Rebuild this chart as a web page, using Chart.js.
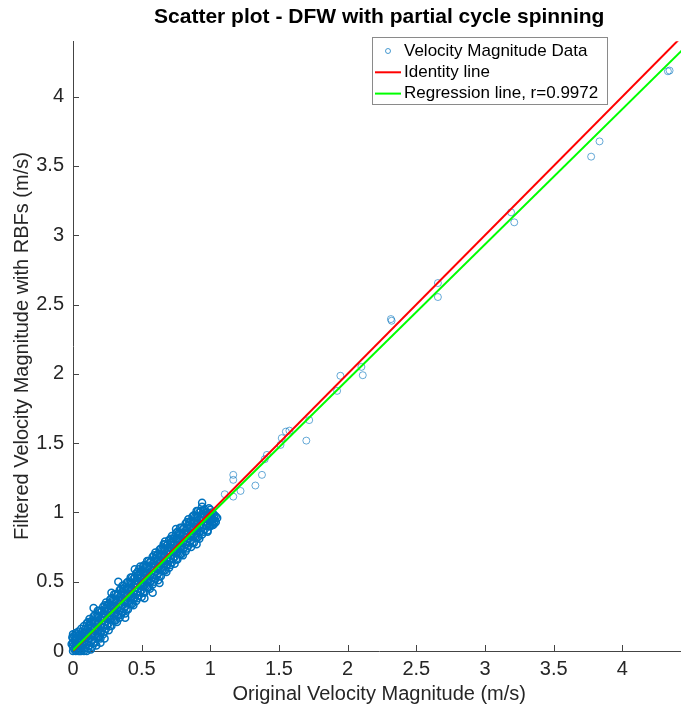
<!DOCTYPE html>
<html>
<head>
<meta charset="utf-8">
<script src="https://cdn.jsdelivr.net/npm/chart.js@4"></script>
<style>
  html, body { margin: 0; padding: 0; background: #fff; overflow: hidden; }
</style>
</head>
<body>
<canvas id="scatterChart" width="691" height="710"></canvas>
<script>
// Dense cloud below 1 m/s: [original value, [filtered values read at that x]]
const bandColumns = [
  [0.00, [0.00, 0.03, 0.06, 0.09, 0.12]],
  [0.01, [0.01, 0.05, 0.08, 0.11]],
  [0.02, [0.00, 0.03, 0.06, 0.10, 0.13]],
  [0.03, [0.01, 0.05, 0.09, 0.12]],
  [0.04, [0.00, 0.04, 0.07, 0.11, 0.14]],
  [0.05, [0.00, 0.04, 0.08, 0.12]],
  [0.06, [0.00, 0.03, 0.07, 0.11, 0.16]],
  [0.07, [0.01, 0.05, 0.10, 0.14]],
  [0.08, [0.00, 0.05, 0.09, 0.13, 0.18]],
  [0.09, [0.02, 0.07, 0.12, 0.16]],
  [0.10, [0.00, 0.05, 0.10, 0.15, 0.20]],
  [0.11, [0.02, 0.07, 0.12, 0.17, 0.21]],
  [0.12, [0.04, 0.09, 0.14, 0.19, 0.23]],
  [0.13, [0.065, 0.115, 0.165, 0.21]],
  [0.14, [0.03, 0.08, 0.12, 0.17, 0.22]],
  [0.15, [0.06, 0.11, 0.16, 0.21, 0.25]],
  [0.16, [0.06, 0.11, 0.16, 0.21, 0.26]],
  [0.17, [0.105, 0.155, 0.205, 0.25]],
  [0.18, [0.10, 0.15, 0.20, 0.25, 0.29]],
  [0.19, [0.10, 0.15, 0.20, 0.25, 0.29]],
  [0.20, [0.09, 0.14, 0.18, 0.23, 0.28]],
  [0.21, [0.145, 0.195, 0.245, 0.29]],
  [0.22, [0.12, 0.17, 0.22, 0.27, 0.32]],
  [0.23, [0.14, 0.19, 0.24, 0.29, 0.33]],
  [0.24, [0.16, 0.21, 0.26, 0.31, 0.35]],
  [0.25, [0.185, 0.235, 0.285, 0.33]],
  [0.26, [0.15, 0.20, 0.24, 0.29, 0.34]],
  [0.27, [0.18, 0.23, 0.28, 0.33, 0.37]],
  [0.28, [0.18, 0.23, 0.28, 0.33, 0.38]],
  [0.29, [0.225, 0.275, 0.325, 0.37]],
  [0.30, [0.22, 0.27, 0.32, 0.37, 0.41]],
  [0.31, [0.22, 0.27, 0.32, 0.37, 0.41]],
  [0.32, [0.21, 0.26, 0.30, 0.35, 0.40]],
  [0.33, [0.265, 0.315, 0.365, 0.41]],
  [0.34, [0.24, 0.29, 0.34, 0.39, 0.44]],
  [0.35, [0.26, 0.31, 0.36, 0.41, 0.45]],
  [0.36, [0.28, 0.33, 0.38, 0.43, 0.47]],
  [0.37, [0.305, 0.355, 0.405, 0.45]],
  [0.38, [0.27, 0.32, 0.36, 0.41, 0.46]],
  [0.39, [0.30, 0.35, 0.40, 0.45, 0.49]],
  [0.40, [0.30, 0.35, 0.40, 0.45, 0.50]],
  [0.41, [0.345, 0.395, 0.445, 0.49]],
  [0.42, [0.34, 0.39, 0.44, 0.49, 0.53]],
  [0.43, [0.34, 0.39, 0.44, 0.49, 0.53]],
  [0.44, [0.33, 0.38, 0.42, 0.47, 0.52]],
  [0.45, [0.385, 0.435, 0.485, 0.53]],
  [0.46, [0.36, 0.41, 0.46, 0.51, 0.56]],
  [0.47, [0.38, 0.43, 0.48, 0.53, 0.57]],
  [0.48, [0.40, 0.45, 0.50, 0.55, 0.59]],
  [0.49, [0.425, 0.475, 0.525, 0.57]],
  [0.50, [0.39, 0.44, 0.48, 0.53, 0.58]],
  [0.51, [0.42, 0.47, 0.52, 0.57, 0.61]],
  [0.52, [0.42, 0.47, 0.52, 0.57, 0.62]],
  [0.53, [0.465, 0.515, 0.565, 0.61]],
  [0.54, [0.46, 0.51, 0.56, 0.61, 0.65]],
  [0.55, [0.46, 0.51, 0.56, 0.61, 0.65]],
  [0.56, [0.45, 0.50, 0.54, 0.59, 0.64]],
  [0.57, [0.505, 0.555, 0.605, 0.65]],
  [0.58, [0.48, 0.53, 0.58, 0.63, 0.68]],
  [0.59, [0.50, 0.55, 0.60, 0.65, 0.69]],
  [0.60, [0.52, 0.57, 0.62, 0.67, 0.71]],
  [0.61, [0.545, 0.595, 0.645, 0.69]],
  [0.62, [0.51, 0.56, 0.60, 0.65, 0.70]],
  [0.63, [0.54, 0.59, 0.64, 0.69, 0.73]],
  [0.64, [0.54, 0.59, 0.64, 0.69, 0.74]],
  [0.65, [0.585, 0.635, 0.685, 0.73]],
  [0.66, [0.58, 0.63, 0.68, 0.73, 0.77]],
  [0.67, [0.58, 0.63, 0.68, 0.73, 0.77]],
  [0.68, [0.57, 0.62, 0.66, 0.71, 0.76]],
  [0.69, [0.625, 0.675, 0.725, 0.77]],
  [0.70, [0.60, 0.65, 0.70, 0.75, 0.80]],
  [0.71, [0.62, 0.67, 0.72, 0.77, 0.81]],
  [0.72, [0.64, 0.69, 0.74, 0.79, 0.83]],
  [0.73, [0.665, 0.715, 0.765, 0.81]],
  [0.74, [0.63, 0.68, 0.72, 0.77, 0.82]],
  [0.75, [0.66, 0.71, 0.76, 0.81, 0.85]],
  [0.76, [0.66, 0.71, 0.76, 0.81, 0.86]],
  [0.77, [0.705, 0.755, 0.805, 0.85]],
  [0.78, [0.70, 0.75, 0.80, 0.85, 0.89]],
  [0.79, [0.70, 0.75, 0.80, 0.85, 0.89]],
  [0.80, [0.69, 0.74, 0.78, 0.83, 0.88]],
  [0.81, [0.745, 0.795, 0.845, 0.89]],
  [0.82, [0.72, 0.77, 0.82, 0.87, 0.92]],
  [0.83, [0.74, 0.79, 0.84, 0.89, 0.93]],
  [0.84, [0.76, 0.81, 0.86, 0.91, 0.95]],
  [0.85, [0.785, 0.835, 0.885, 0.93]],
  [0.86, [0.75, 0.80, 0.84, 0.89, 0.94]],
  [0.87, [0.78, 0.83, 0.88, 0.93, 0.97]],
  [0.88, [0.78, 0.83, 0.88, 0.93, 0.98]],
  [0.89, [0.825, 0.875, 0.925, 0.97]],
  [0.90, [0.82, 0.87, 0.92, 0.97, 1.01]],
  [0.91, [0.82, 0.87, 0.92, 0.97, 1.01]],
  [0.92, [0.81, 0.86, 0.90, 0.95, 1.00]],
  [0.93, [0.865, 0.915, 0.965, 1.01]],
  [0.94, [0.84, 0.89, 0.94, 0.99, 1.04]],
  [0.95, [0.86, 0.91, 0.96, 1.01]],
  [0.96, [0.88, 0.93, 0.98, 1.02]],
  [0.97, [0.905, 0.955, 1.00]],
  [0.98, [0.87, 0.92, 0.96, 1.00]],
  [0.99, [0.90, 0.95, 0.99, 1.03]],
  [1.00, [0.90, 0.94, 0.98, 1.02]],
  [1.01, [0.92, 0.96, 1.00]],
  [1.02, [0.91, 0.95, 0.99]],
  [1.03, [0.94, 0.98]],
  [1.04, [0.93, 0.97]]
];

// loose points around the edge of the cloud
const strayPoints = [
  [-0.01, 0.05], [-0.005, 0.10], [0.13, 0.01], [0.17, 0.04], [0.20, 0.06], [0.23, 0.09],
  [0.15, 0.31], [0.28, 0.42], [0.33, 0.50], [0.38, 0.24], [0.45, 0.59], [0.49, 0.61],
  [0.52, 0.38], [0.58, 0.42], [0.63, 0.49], [0.67, 0.79], [0.75, 0.88], [0.90, 0.77],
  [0.94, 1.07], [0.98, 0.86], [1.03, 0.92], [1.05, 0.96]
];

// isolated points above 1 m/s
const outlierPoints = [
  [1.105, 1.131], [1.167, 1.114], [1.167, 1.271], [1.167, 1.235], [1.22, 1.155],
  [1.328, 1.194], [1.376, 1.271], [1.396, 1.384], [1.412, 1.415], [1.511, 1.487],
  [1.52, 1.536], [1.55, 1.583], [1.576, 1.59], [1.699, 1.518], [1.72, 1.666],
  [1.923, 1.877], [1.947, 1.986], [2.10, 2.05], [2.11, 1.99], [2.315, 2.395],
  [2.32, 2.383], [2.657, 2.655], [2.657, 2.554], [3.19, 3.165], [3.213, 3.093],
  [3.773, 3.567], [3.834, 3.677], [4.332, 4.183], [4.344, 4.188]
];

const identityX = [0, 4.5];
const identityY = [0, 4.5];
const regressionX = [0, 4.5];
const regressionY = [0.006, 4.398];

const seriesLabels = ['Velocity Magnitude Data', 'Identity line', 'Regression line, r=0.9972'];

const scatterData = bandColumns
  .flatMap(([x, ys]) => ys.map(y => ({x: x, y: y})))
  .concat(strayPoints.map(p => ({x: p[0], y: p[1]})))
  .concat(outlierPoints.map(p => ({x: p[0], y: p[1]})));
const cloudCount = scatterData.length - outlierPoints.length;

const FONT = '"Liberation Sans", Arial, Helvetica, sans-serif';
Chart.defaults.font.family = FONT;
Chart.defaults.color = '#262626';

// MATLAB style ticks pointing into the axes
const inwardTicks = {
  id: 'inwardTicks',
  beforeDatasetsDraw(chart) {
    const {ctx, chartArea, scales} = chart;
    ctx.save();
    ctx.strokeStyle = '#444';
    ctx.lineWidth = 1;
    ctx.beginPath();
    scales.x.ticks.forEach(t => {
      const px = Math.round(scales.x.getPixelForValue(t.value)) + 0.5;
      ctx.moveTo(px, chartArea.bottom);
      ctx.lineTo(px, chartArea.bottom - 6);
    });
    scales.y.ticks.forEach(t => {
      const py = Math.round(scales.y.getPixelForValue(t.value)) + 0.5;
      ctx.moveTo(chartArea.left, py);
      ctx.lineTo(chartArea.left + 6, py);
    });
    ctx.stroke();
    ctx.restore();
  }
};

// boxed legend inside the axes, top right
const boxLegend = {
  id: 'boxLegend',
  afterDraw(chart, args, opts) {
    const {ctx} = chart;
    ctx.save();
    ctx.fillStyle = '#fff';
    ctx.fillRect(opts.left, opts.top, opts.width, opts.height);
    ctx.strokeStyle = '#8a8a8a';
    ctx.lineWidth = 1;
    ctx.strokeRect(opts.left + 0.5, opts.top + 0.5, opts.width, opts.height);
    ctx.font = '17px ' + FONT;
    ctx.textBaseline = 'middle';
    chart.data.datasets.forEach((ds, i) => {
      const cy = opts.top + 14 + i * opts.rowHeight;
      if (ds.showLine) {
        ctx.strokeStyle = ds.borderColor;
        ctx.lineWidth = 2;
        ctx.beginPath();
        ctx.moveTo(opts.left + 3, cy);
        ctx.lineTo(opts.left + 29, cy);
        ctx.stroke();
      } else {
        ctx.strokeStyle = 'rgba(0, 114, 189, 0.7)';
        ctx.lineWidth = 1;
        ctx.beginPath();
        ctx.arc(opts.left + 16, cy, 2.5, 0, Math.PI * 2);
        ctx.stroke();
      }
      ctx.fillStyle = '#000';
      ctx.fillText(ds.label, opts.left + 32, cy);
    });
    ctx.restore();
  }
};

const tickText = v => String(v);

const ctx = document.getElementById('scatterChart').getContext('2d');
new Chart(ctx, {
  type: 'scatter',
  data: {
    datasets: [
      {
        label: seriesLabels[0],
        data: scatterData,
        // dense cloud drawn solid, isolated points thin and light like the original
        borderColor: c => c.dataIndex < cloudCount ? 'rgb(0, 114, 189)' : 'rgba(0, 114, 189, 0.6)',
        borderWidth: c => c.dataIndex < cloudCount ? 1.5 : 1,
        backgroundColor: 'rgba(0, 0, 0, 0)',
        pointRadius: 3.5,
        clip: 6,
        order: 3
      },
      {
        label: seriesLabels[1],
        data: identityX.map((x, i) => ({x: x, y: identityY[i]})),
        showLine: true,
        borderColor: '#ff0000',
        borderWidth: 2,
        pointRadius: 0,
        order: 2
      },
      {
        label: seriesLabels[2],
        data: regressionX.map((x, i) => ({x: x, y: regressionY[i]})),
        showLine: true,
        borderColor: '#00ff00',
        borderWidth: 2,
        pointRadius: 0,
        order: 1
      }
    ]
  },
  options: {
    responsive: false,
    animation: false,
    layout: { padding: 0 },
    scales: {
      x: {
        type: 'linear',
        min: 0,
        max: 4.46,
        afterFit: s => { s.height = 59; },
        grid: { display: false, drawTicks: false },
        border: { display: true, color: '#444', width: 1 },
        ticks: { stepSize: 0.5, includeBounds: false, padding: 6, color: '#262626', font: { size: 20 }, callback: tickText },
        title: { display: true, text: 'Original Velocity Magnitude (m/s)', color: '#262626', font: { size: 20 }, padding: { top: 0, bottom: 4 } }
      },
      y: {
        type: 'linear',
        min: 0,
        max: 4.4,
        afterFit: s => { s.width = 73; },
        grid: { display: false, drawTicks: false },
        border: { display: true, color: '#444', width: 1 },
        ticks: { stepSize: 0.5, includeBounds: false, padding: 9, color: '#262626', font: { size: 20 }, callback: tickText },
        title: { display: true, text: 'Filtered Velocity Magnitude with RBFs (m/s)', color: '#262626', font: { size: 20 }, padding: { top: 10, bottom: 0 } }
      }
    },
    plugins: {
      legend: { display: false },
      tooltip: { enabled: false },
      title: {
        display: true,
        fullSize: false,
        text: 'Scatter plot - DFW with partial cycle spinning',
        color: '#000',
        font: { size: 21, weight: 'bold' },
        padding: { top: 5, bottom: 11 }
      },
      boxLegend: { left: 372, top: 37, width: 235, height: 67, rowHeight: 21.3 }
    }
  },
  plugins: [inwardTicks, boxLegend]
});
</script>
</body>
</html>
